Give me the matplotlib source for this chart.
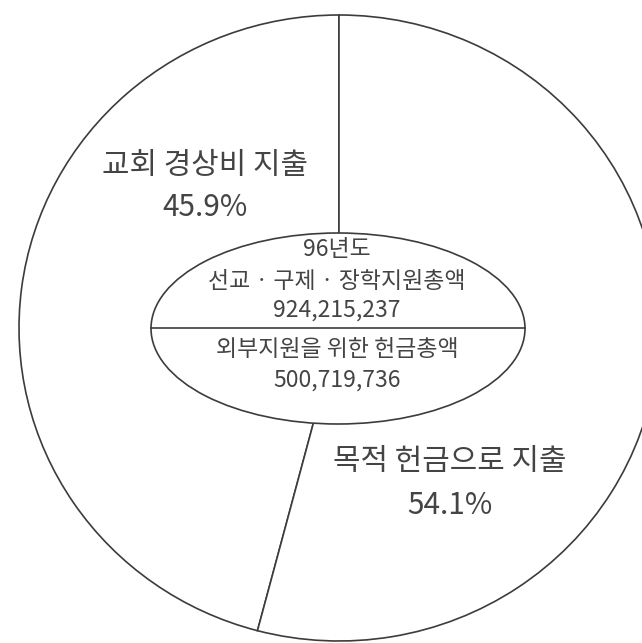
import matplotlib
matplotlib.use('Agg')
import matplotlib.pyplot as plt
from matplotlib.patches import Ellipse

plt.rcParams['font.family'] = ['Noto Sans CJK KR', 'DejaVu Sans']

# 96년도 헌금 지출 비율
labels = ['교회 경상비 지출', '목적 헌금으로 지출']
shares = [45.9, 54.1]
center_title = '96년도'
top_label = '선교 · 구제 · 장학지원총액'
top_total = '924,215,237'
bottom_label = '외부지원을 위한 헌금총액'
bottom_total = '500,719,736'

W, H = 642, 643
cx, cy = 339, 328      # 원 중심 (픽셀)
rx, ry = 320, 313      # 원 반지름 (픽셀)

def px(x, y):
    # 그림 픽셀 좌표 -> 데이터 좌표
    return (x - cx) / rx, (cy - y) / ry

fig = plt.figure(figsize=(W / 100, H / 100), dpi=100)
ax = fig.add_axes([0, 0, 1, 1])
line_col = '#3c3c3c'
text_col = '#444444'

ax.pie(shares, startangle=90, counterclock=True, radius=1, center=(0, 0), frame=True,
       wedgeprops=dict(facecolor='white', edgecolor=line_col, linewidth=1.2))

ax.set_aspect('auto')
ax.set_xlim(-cx / rx, (W - cx) / rx)
ax.set_ylim((cy - H) / ry, cy / ry)
ax.axis('off')

# 가운데 타원
ex, ey = px(338, 328.5)
ell = Ellipse((ex, ey), 374 / rx, 191 / ry, facecolor='white', edgecolor=line_col,
              linewidth=1.2, zorder=5)
ax.add_patch(ell)
x0, yl = px(151, 328)
x1, _ = px(525, 328)
ax.plot([x0, x1], [yl, yl], color=line_col, linewidth=1.2, zorder=6)

def put(text, x, y, size):
    tx, ty = px(x, y)
    ax.text(tx, ty, text, ha='center', va='center', fontsize=size, color=text_col, zorder=7)

put(labels[0], 205, 166, 21.5)
put('%.1f%%' % shares[0], 205, 207, 21.5)
put(labels[1], 450, 461, 21.5)
put('%.1f%%' % shares[1], 450, 505, 21.5)

put(center_title, 337, 249, 16.5)
put(top_label, 337, 281, 16.5)
put(top_total, 337, 310, 16.5)
put(bottom_label, 337, 349, 16.5)
put(bottom_total, 337, 380, 16.5)

plt.savefig('out.png', dpi=100)
